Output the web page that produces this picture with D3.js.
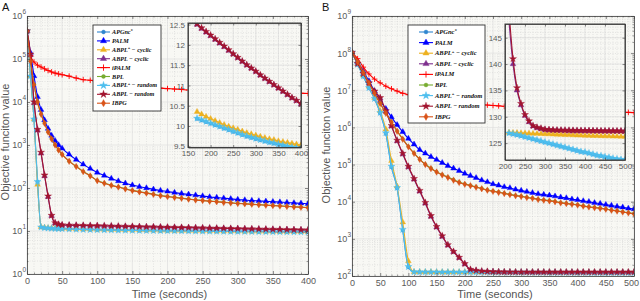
<!DOCTYPE html>
<html>
<head>
<meta charset="utf-8">
<script src="https://cdnjs.cloudflare.com/ajax/libs/d3/7.8.5/d3.min.js"></script>
<style>
  body { margin: 0; background: #fff; }
  svg { display: block; font-family: "Liberation Sans", Arial, sans-serif; }
</style>
</head>
<body>
<svg id="chart" width="640" height="301"></svg>
<script>
// ---- values (objective value vs time) ----
var timesA = [0,5,10,15,20,25,30,35,40,45,50,60,70,80,90,100,110,120,130,140,150,160,170,180,190,200,
  210,220,230,240,250,260,270,280,290,300,310,320,330,340,350,360,370,380,390,400];
var timesB = [0,10,20,30,40,50,60,70,80,90,100,110,120,130,140,150,160,170,180,190,200,
  210,220,230,240,250,260,270,280,290,300,310,320,330,340,350,360,370,380,390,400,
  410,420,430,440,450,460,470,480,490,500];

// panel A
var apgncA = [4.5e5,4.0e4,3.9e3,138,12.25,11.83,11.63,11.49,11.39,11.29,11.19,11.04,10.92,10.81,10.71,10.62,10.54,10.47,10.4,10.34,
  10.28,10.23,10.18,10.14,10.1,10.06,10.02,9.98,9.94,9.9,9.86,9.82,9.78,9.74,9.71,9.68,9.65,9.62,9.59,9.57,9.54,9.52,9.49,9.47,9.45,9.43];
var palmA = [4.5e5,1.4e5,4.0e4,1.32e4,6.6e3,3.8e3,2.4e3,1.66e3,1.26e3,1.0e3,832,603,457,355,282,229,195,166,145,129,
  117,107,100,93,87,83,78,74,71,68,65,62,60,58,56,54,52.5,51,50,49,48,47,46,45,44,43];
var abplPlusCyclicA = [4.5e5,4.0e4,4.0e3,120,12.5,12.0,11.8,11.65,11.55,11.45,11.35,11.2,11.08,10.98,10.88,10.8,10.72,10.65,10.58,10.51,
  10.45,10.4,10.35,10.29,10.23,10.18,10.13,10.08,10.03,9.99,9.95,9.91,9.87,9.83,9.8,9.77,9.74,9.71,9.68,9.66,9.63,9.61,9.59,9.57,9.55,9.53];
var abplCyclicA = [4.5e5,1.25e5,9.5e3,2.2e3,640,190,62,22.5,15.3,14.2,13.75,13.6,13.5,13.4,13.3,13.2,13.1,13.0,12.9,12.8,
  12.7,12.6,12.5,12.4,12.31,12.22,12.13,12.04,11.95,11.86,11.77,11.68,11.59,11.5,11.42,11.34,11.25,11.17,11.09,11.01,10.93,10.85,10.77,10.69,10.62,10.54];
var ipalmA = [4.5e5,1.2e5,8.5e4,7.2e4,6.5e4,5.9e4,5.4e4,5.0e4,4.7e4,4.5e4,4.3e4,4.0e4,3.6e4,3.3e4,3.2e4,3.0e4,2.9e4,2.75e4,2.6e4,2.5e4,
  2.4e4,2.35e4,2.25e4,2.15e4,2.1e4,2.05e4,2.0e4,1.95e4,1.9e4,1.88e4,1.86e4,1.82e4,1.8e4,1.78e4,1.76e4,1.74e4,1.72e4,1.7e4,1.69e4,1.67e4,
  1.66e4,1.64e4,1.63e4,1.62e4,1.6e4,1.58e4];
var bplA = [4.5e5,9.0e4,2.55e4,1.02e4,5.3e3,3.25e3,2.02e3,1.4e3,1.01e3,765,608,421,319,242,193,150,130,116,106,96,
  88,82,77,72,67,64,61,58,55.5,53,51.5,49.5,48.5,46.5,45.4,44,43.1,42.1,41.1,40.2,39.3,38.4,37.6,36.7,35.9,35];
var abplPlusRandomA = [4.5e5,4.0e4,4.0e3,141,12.3,11.85,11.65,11.5,11.4,11.3,11.2,11.05,10.93,10.82,10.72,10.63,10.55,10.48,10.41,10.35,
  10.29,10.24,10.19,10.15,10.11,10.07,10.03,9.99,9.95,9.91,9.87,9.83,9.79,9.75,9.72,9.69,9.66,9.63,9.6,9.58,9.55,9.53,9.5,9.48,9.46,9.44];
var abplRandomA = [4.5e5,1.3e5,1.0e4,2.3e3,676,200,65,23,15.5,14.3,13.8,13.65,13.55,13.45,13.35,13.25,13.15,13.05,12.95,12.85,
  12.75,12.64,12.52,12.42,12.33,12.24,12.15,12.06,11.97,11.88,11.78,11.69,11.6,11.51,11.43,11.35,11.26,11.18,11.1,11.02,10.94,10.86,10.78,10.7,10.63,10.55];
var ibpgA = [4.5e5,8.9e4,2.5e4,1.0e4,5.2e3,3.2e3,2.0e3,1.38e3,1.0e3,759,603,417,316,240,191,148,129,115,105,95,
  87,81,76,71,66,63,60,57.5,55,52.5,51,49,48,46,45,43.6,42.7,41.7,40.7,39.8,38.9,38,37.2,36.3,35.5,34.7];

// panel B
var apgncB = [1.05e8,4.9e7,2.35e7,1.15e7,5.8e6,2.4e6,6.8e5,8.5e4,2.3e4,1.7e3,172,
  128.4,128.1,127.9,127.7,127.5,127.35,127.25,127.15,127.05,126.95,
  126.85,126.7,126.55,126.35,126.15,125.95,125.75,125.55,125.35,125.15,
  124.95,124.75,124.55,124.35,124.15,123.95,123.75,123.55,123.35,123.25,
  123.05,122.85,122.65,122.55,122.35,122.25,122.05,121.95,121.85,121.75];
var palmB = [1.05e8,6.0e7,3.3e7,1.78e7,9.5e6,5.2e6,3.2e6,1.9e6,1.17e6,7.6e5,5.0e5,
  3.5e5,2.5e5,2.0e5,1.62e5,1.35e5,1.12e5,9.3e4,7.9e4,6.8e4,5.75e4,
  5.0e4,4.4e4,3.8e4,3.4e4,3.0e4,2.75e4,2.5e4,2.35e4,2.14e4,2.0e4,
  1.86e4,1.74e4,1.62e4,1.55e4,1.48e4,1.41e4,1.32e4,1.26e4,1.17e4,1.12e4,
  1.05e4,1.0e4,9.3e3,8.9e3,8.3e3,7.9e3,7.4e3,7.1e3,6.6e3,6.3e3];
var abplPlusCyclicB = [1.05e8,5.1e7,2.5e7,1.26e7,6.3e6,2.8e6,8.9e5,1.26e5,2.6e4,2.8e3,251,
  128.3,127.9,127.6,127.4,127.3,127.25,127.2,127.15,127.1,127.05,
  127.0,126.97,126.94,126.91,126.88,126.85,126.82,126.79,126.76,126.73,
  126.7,126.67,126.64,126.61,126.58,126.55,126.52,126.49,126.46,126.43,
  126.41,126.39,126.37,126.35,126.33,126.31,126.29,126.27,126.25,126.23];
var abplCyclicB = [1.05e8,5.2e7,2.75e7,1.55e7,9.3e6,6.1e6,2.7e6,1.08e6,4.3e5,1.9e5,8.5e4,
  4.0e4,1.9e4,9.0e3,4.0e3,2.05e3,1.15e3,670,445,308,209,
  148,140,135,132.2,130.2,129.0,128.2,127.9,127.7,127.55,
  127.5,127.46,127.44,127.42,127.4,127.38,127.37,127.36,127.35,127.34,
  127.33,127.32,127.31,127.3,127.3,127.29,127.29,127.28,127.28,127.28];
var ipalmB = [1.05e8,7.1e7,4.2e7,2.75e7,2.0e7,1.58e7,1.29e7,1.1e7,9.5e6,8.3e6,7.6e6,
  7.1e6,6.6e6,6.2e6,5.9e6,5.6e6,5.4e6,5.1e6,4.9e6,4.8e6,4.6e6,
  4.5e6,4.3e6,4.2e6,4.0e6,3.9e6,3.8e6,3.7e6,3.65e6,3.55e6,3.47e6,
  3.4e6,3.3e6,3.24e6,3.16e6,3.12e6,3.09e6,3.02e6,2.95e6,2.88e6,2.85e6,
  2.82e6,2.75e6,2.72e6,2.69e6,2.66e6,2.63e6,2.6e6,2.57e6,2.54e6,2.51e6];
var bplB = [1.05e8,5.8e7,3.05e7,1.6e7,8.5e6,4.5e6,2.45e6,1.41e6,8.1e5,4.9e5,3.06e5,
  2.04e5,1.41e5,1.02e5,7.95e4,6.4e4,5.35e4,4.6e4,3.9e4,3.37e4,3.0e4,
  2.75e4,2.5e4,2.28e4,2.08e4,1.94e4,1.82e4,1.69e4,1.58e4,1.48e4,1.41e4,
  1.32e4,1.25e4,1.17e4,1.12e4,1.07e4,1.02e4,9.5e3,9.1e3,8.7e3,8.3e3,
  7.75e3,7.35e3,7.05e3,6.75e3,6.4e3,6.0e3,5.7e3,5.35e3,5.1e3,4.8e3];
var abplPlusRandomB = [1.05e8,5.0e7,2.4e7,1.17e7,6.0e6,2.5e6,7.1e5,8.9e4,2.4e4,1.78e3,178,
  128.5,128.2,128.0,127.8,127.6,127.4,127.3,127.2,127.1,127.0,
  126.9,126.75,126.6,126.4,126.2,126.0,125.8,125.6,125.4,125.2,
  125.0,124.8,124.6,124.4,124.2,124.0,123.8,123.6,123.4,123.3,
  123.1,122.9,122.7,122.6,122.4,122.3,122.1,122.0,121.9,121.8];
var abplRandomB = [1.05e8,5.25e7,2.8e7,1.58e7,9.5e6,6.3e6,2.8e6,1.12e6,4.5e5,2.0e5,8.9e4,
  4.2e4,2.0e4,9.5e3,4.2e3,2.14e3,1.2e3,692,457,316,214,
  150,141,135.5,132.5,130.4,129.2,128.3,128.0,127.8,127.6,
  127.55,127.5,127.48,127.46,127.44,127.42,127.4,127.39,127.38,127.37,
  127.36,127.35,127.34,127.33,127.32,127.32,127.31,127.31,127.3,127.3];
var ibpgB = [1.05e8,5.75e7,3.0e7,1.58e7,8.3e6,4.4e6,2.4e6,1.38e6,7.9e5,4.8e5,3.0e5,
  2.0e5,1.38e5,1.0e5,7.8e4,6.3e4,5.25e4,4.5e4,3.8e4,3.3e4,2.95e4,
  2.7e4,2.45e4,2.24e4,2.04e4,1.9e4,1.78e4,1.66e4,1.55e4,1.45e4,1.38e4,
  1.29e4,1.23e4,1.15e4,1.1e4,1.05e4,1.0e4,9.3e3,8.9e3,8.5e3,8.1e3,
  7.6e3,7.2e3,6.9e3,6.6e3,6.3e3,5.9e3,5.6e3,5.25e3,5.0e3,4.7e3];

// legend labels (base, superscript, rest)
var nameBase = ['APGnc','PALM','ABPL','ABPL','iPALM','BPL','ABPL','ABPL','IBPG'];
var nameSup  = ['*','','+','','','','+','',''];
var nameRest = ['','',' \u2212 cyclic',' \u2212 cyclic','','',' \u2212 random',' \u2212 random',''];
var seriesColors = ['#2f86cf','#0000ff','#edb120','#7e2f8e','#ff0000','#77ac30','#4dbeee','#a2142f','#d95319'];
var seriesShapes = ['circle','triangle','triangle','triangle','plus','circle','star','star','diamond'];

// ticks
var xTicksA = [0,50,100,150,200,250,300,350,400];
var xTicksB = [0,50,100,150,200,250,300,350,400,450,500];
var yExpA = [0,1,2,3,4,5,6];
var yExpB = [2,3,4,5,6,7,8,9];
var insetXTicksA = [150,200,250,300,350,400];
var insetYTicksA = [9.5,10,10.5,11,11.5,12,12.5];
var insetXTicksB = [200,250,300,350,400,450,500];
var insetYTicksB = [125,130,135,140,145];

var svg = d3.select("#chart");
var defs = svg.append("defs");
var symbolTypes = {circle: d3.symbolCircle, triangle: d3.symbolTriangle, plus: d3.symbolPlus, star: d3.symbolStar, diamond: d3.symbolDiamond};
var symbolSizes = {circle: 9, triangle: 14, plus: 12, star: 15, diamond: 12};
var plotBg = "#f8f8f4", frameCol = "#3c3c3c", tickCol = "#5a5a5a";

function styleAxis(sel, fs) {
  sel.attr("font-size", fs).attr("font-family", '"Liberation Sans", Arial, sans-serif');
  sel.select(".domain").attr("stroke", frameCol).attr("stroke-width", 0.8);
  sel.selectAll(".tick line").attr("stroke", frameCol).attr("stroke-width", 0.6);
  sel.selectAll(".tick text").attr("fill", tickCol);
}
function minorOnly(sel) {
  sel.select(".domain").remove();
  sel.selectAll(".tick line").attr("stroke", frameCol).attr("stroke-width", 0.5);
}

function drawSeries(g, x, y, times, data, clipId, tMin) {
  var sg = g.append("g").attr("clip-path", "url(#" + clipId + ")");
  var line = d3.line().x(function(d) { return x(d[0]); }).y(function(d) { return y(d[1]); }).curve(d3.curveMonotoneX);
  data.forEach(function(vals, i) {
    var pts = times.map(function(t, j) { return [t, vals[j]]; })
      .filter(function(d) { return d[0] >= tMin; });
    var col = seriesColors[i], shape = seriesShapes[i];
    sg.append("path").datum(pts).attr("fill", "none").attr("stroke", col).attr("stroke-width", 1.1).attr("d", line);
    var sym = d3.symbol().type(symbolTypes[shape]).size(symbolSizes[shape]);
    sg.selectAll(null).data(pts).enter().append("path")
      .attr("transform", function(d) { return "translate(" + x(d[0]) + "," + y(d[1]) + ")"; })
      .attr("d", sym)
      .attr("fill", shape == "plus" ? "none" : col)
      .attr("stroke", col)
      .attr("stroke-width", shape == "plus" ? 0.9 : 0.4);
  });
}

function clipRect(id, x0, y0, x1, y1) {
  defs.append("clipPath").attr("id", id).append("rect")
    .attr("x", x0).attr("y", y0).attr("width", x1 - x0).attr("height", y1 - y0);
}

function drawPanel(p) {
  var g = svg.append("g");
  var x = d3.scaleLinear().domain(p.xDomain).range(p.xRange);
  var y = d3.scaleLog().domain(p.yDomain).range(p.yRange);
  var x0 = p.xRange[0], x1 = p.xRange[1], yb = p.yRange[0], yt = p.yRange[1];

  g.append("rect").attr("x", x0).attr("y", yt).attr("width", x1 - x0).attr("height", yb - yt).attr("fill", plotBg);

  // grid
  var xMinor = d3.range(p.xDomain[0], p.xDomain[1] + 1, 10).filter(function(v) { return v % 50 != 0; });
  var yMajor = p.yExp.map(function(e) { return Math.pow(10, e); });
  var yMinor = [];
  p.yExp.slice(0, -1).forEach(function(e) { for (var m = 2; m < 10; m++) yMinor.push(m * Math.pow(10, e)); });
  var grid = g.append("g");
  grid.selectAll(null).data(xMinor).enter().append("line")
    .attr("x1", x).attr("x2", x).attr("y1", yt).attr("y2", yb)
    .attr("stroke", "#cfcfcf").attr("stroke-width", 0.5).attr("stroke-dasharray", "1,1.5");
  grid.selectAll(null).data(yMinor).enter().append("line")
    .attr("x1", x0).attr("x2", x1).attr("y1", y).attr("y2", y)
    .attr("stroke", "#cfcfcf").attr("stroke-width", 0.5).attr("stroke-dasharray", "1,1.5");
  grid.selectAll(null).data(p.xTicks).enter().append("line")
    .attr("x1", x).attr("x2", x).attr("y1", yt).attr("y2", yb)
    .attr("stroke", "#dadada").attr("stroke-width", 0.6);
  grid.selectAll(null).data(yMajor).enter().append("line")
    .attr("x1", x0).attr("x2", x1).attr("y1", y).attr("y2", y)
    .attr("stroke", "#dadada").attr("stroke-width", 0.6);

  clipRect(p.id + "clip", x0, yt, x1, yb);
  drawSeries(g, x, y, p.times, p.data, p.id + "clip", -Infinity);

  // axes, ticks pointing inward on every side
  var gx = g.append("g").attr("transform", "translate(0," + yb + ")")
    .call(d3.axisBottom(x).tickValues(p.xTicks).tickSize(-3).tickSizeOuter(0).tickPadding(4).tickFormat(d3.format("d")));
  styleAxis(gx, 9);
  // keep the last label inside the window
  gx.selectAll(".tick text").filter(function(d) { return x(d) > 628; }).attr("dx", -3);
  var gxt = g.append("g").attr("transform", "translate(0," + yt + ")")
    .call(d3.axisTop(x).tickValues(p.xTicks).tickSize(-3).tickSizeOuter(0).tickFormat(""));
  styleAxis(gxt, 9);
  g.append("g").attr("transform", "translate(0," + yb + ")")
    .call(d3.axisBottom(x).tickValues(xMinor).tickSize(-1.5).tickFormat("")).call(minorOnly);
  g.append("g").attr("transform", "translate(0," + yt + ")")
    .call(d3.axisTop(x).tickValues(xMinor).tickSize(-1.5).tickFormat("")).call(minorOnly);

  var gy = g.append("g").attr("transform", "translate(" + x0 + ",0)")
    .call(d3.axisLeft(y).tickValues(yMajor).tickSize(-3).tickSizeOuter(0).tickPadding(1).tickFormat(function() { return ""; }));
  styleAxis(gy, 9);
  gy.selectAll(".tick text").each(function(d) {
    var t = d3.select(this);
    t.append("tspan").text("10");
    t.append("tspan").attr("dy", -5).attr("font-size", 6.5).text(Math.round(Math.log10(d)));
  });
  var gyr = g.append("g").attr("transform", "translate(" + x1 + ",0)")
    .call(d3.axisRight(y).tickValues(yMajor).tickSize(-3).tickSizeOuter(0).tickFormat(""));
  styleAxis(gyr, 9);
  g.append("g").attr("transform", "translate(" + x0 + ",0)")
    .call(d3.axisLeft(y).tickValues(yMinor).tickSize(-1.5).tickFormat("")).call(minorOnly);
  g.append("g").attr("transform", "translate(" + x1 + ",0)")
    .call(d3.axisRight(y).tickValues(yMinor).tickSize(-1.5).tickFormat("")).call(minorOnly);

  // titles
  g.append("text").attr("x", p.panelX).attr("y", 11).attr("font-size", 11).attr("fill", "#111").text(p.letter);
  g.append("text").attr("x", (x0 + x1) / 2 + 2).attr("y", 298).attr("text-anchor", "middle")
    .attr("font-size", 11).attr("fill", "#555").text("Time (seconds)");
  g.append("text").attr("transform", "translate(" + p.yTitleX + "," + p.yTitleY + ") rotate(-90)")
    .attr("text-anchor", "middle").attr("font-size", 11).attr("fill", "#555").text("Objective funciton value");

  drawLegend(g, p.legend);
  drawInset(g, p);
}

function drawInset(g, p) {
  var q = p.inset;
  var ig = g.append("g");
  var x = d3.scaleLinear().domain(q.xDomain).range(q.xRange);
  var y = d3.scaleLinear().domain(q.yDomain).range(q.yRange);
  var x0 = q.xRange[0], x1 = q.xRange[1], yb = q.yRange[0], yt = q.yRange[1];
  ig.append("rect").attr("x", x0).attr("y", yt).attr("width", x1 - x0).attr("height", yb - yt).attr("fill", plotBg);

  var xMinor = d3.range(q.xDomain[0], q.xDomain[1] + 1, 10);
  var yMinor = d3.range(Math.ceil(q.yDomain[0] / q.yMinorStep) * q.yMinorStep, q.yDomain[1], q.yMinorStep);
  ig.selectAll(null).data(xMinor).enter().append("line")
    .attr("x1", x).attr("x2", x).attr("y1", yt).attr("y2", yb)
    .attr("stroke", "#cfcfcf").attr("stroke-width", 0.5).attr("stroke-dasharray", "1,1.5");
  ig.selectAll(null).data(yMinor).enter().append("line")
    .attr("x1", x0).attr("x2", x1).attr("y1", y).attr("y2", y)
    .attr("stroke", "#cfcfcf").attr("stroke-width", 0.5).attr("stroke-dasharray", "1,1.5");
  ig.selectAll(null).data(q.xTicks).enter().append("line")
    .attr("x1", x).attr("x2", x).attr("y1", yt).attr("y2", yb).attr("stroke", "#d8d8d8").attr("stroke-width", 0.6);
  ig.selectAll(null).data(q.yTicks).enter().append("line")
    .attr("x1", x0).attr("x2", x1).attr("y1", y).attr("y2", y).attr("stroke", "#d8d8d8").attr("stroke-width", 0.6);

  clipRect(p.id + "iclip", x0, yt, x1, yb);
  drawSeries(ig, x, y, p.times, p.data, p.id + "iclip", q.tMin);

  var fmt = function(d) { return String(d); };
  styleAxis(ig.append("g").attr("transform", "translate(0," + yb + ")")
    .call(d3.axisBottom(x).tickValues(q.xTicks).tickSize(-2.5).tickSizeOuter(0).tickPadding(3).tickFormat(fmt)), 8);
  styleAxis(ig.append("g").attr("transform", "translate(0," + yt + ")")
    .call(d3.axisTop(x).tickValues(q.xTicks).tickSize(-2.5).tickSizeOuter(0).tickFormat("")), 8);
  styleAxis(ig.append("g").attr("transform", "translate(" + x0 + ",0)")
    .call(d3.axisLeft(y).tickValues(q.yTicks).tickSize(-2.5).tickSizeOuter(0).tickPadding(3).tickFormat(fmt)), 8);
  styleAxis(ig.append("g").attr("transform", "translate(" + x1 + ",0)")
    .call(d3.axisRight(y).tickValues(q.yTicks).tickSize(-2.5).tickSizeOuter(0).tickFormat("")), 8);
  ig.append("rect").attr("x", x0).attr("y", yt).attr("width", x1 - x0).attr("height", yb - yt)
    .attr("fill", "none").attr("stroke", "#333").attr("stroke-width", 0.9);
}

function drawLegend(g, lg) {
  var l = g.append("g");
  l.append("rect").attr("x", lg.x).attr("y", lg.y).attr("width", lg.w).attr("height", lg.h)
    .attr("fill", "#fff").attr("stroke", "#333").attr("stroke-width", 0.9);
  nameBase.forEach(function(b, i) {
    var cy = lg.row0 + i * lg.step, col = seriesColors[i], shape = seriesShapes[i];
    l.append("line").attr("x1", lg.lx0).attr("x2", lg.lx1).attr("y1", cy).attr("y2", cy)
      .attr("stroke", col).attr("stroke-width", 1.1);
    l.append("path").attr("transform", "translate(" + (lg.lx0 + lg.lx1) / 2 + "," + cy + ")")
      .attr("d", d3.symbol().type(symbolTypes[shape]).size(symbolSizes[shape] + 3))
      .attr("fill", shape == "plus" ? "none" : col).attr("stroke", col).attr("stroke-width", shape == "plus" ? 0.9 : 0.4);
    var t = l.append("text").attr("x", lg.tx).attr("y", cy + 2)
      .attr("font-family", '"Liberation Serif", "DejaVu Serif", serif').attr("font-style", "italic")
      .attr("font-weight", "bold").attr("font-size", lg.fs).attr("fill", "#111");
    t.append("tspan").text(b);
    if (nameSup[i]) t.append("tspan").attr("dy", -2.5).attr("font-size", lg.fs * 0.7).text(nameSup[i]);
    if (nameRest[i]) t.append("tspan").attr("dy", nameSup[i] ? 2.5 : 0).text(nameRest[i]);
  });
}

drawPanel({
  id: "A", letter: "A", panelX: 2,
  xDomain: [0, 400], xRange: [27, 308], yDomain: [1, 1e6], yRange: [274, 16],
  xTicks: xTicksA, yExp: yExpA, times: timesA,
  data: [apgncA, palmA, abplPlusCyclicA, abplCyclicA, ipalmA, bplA, abplPlusRandomA, abplRandomA, ibpgA],
  yTitleX: 9, yTitleY: 142,
  legend: {x: 93, y: 25, w: 68, h: 86, row0: 32, step: 8.9, lx0: 97, lx1: 110, tx: 112, fs: 6.2},
  inset: {xDomain: [150, 400], xRange: [188, 301], yDomain: [9.47, 12.54], yRange: [147.5, 23],
          xTicks: insetXTicksA, yTicks: insetYTicksA, yMinorStep: 0.1, tMin: 170}
});

drawPanel({
  id: "B", letter: "B", panelX: 322,
  xDomain: [0, 500], xRange: [352, 634], yDomain: [1e2, 1e9], yRange: [276, 16],
  xTicks: xTicksB, yExp: yExpB, times: timesB,
  data: [apgncB, palmB, abplPlusCyclicB, abplCyclicB, ipalmB, bplB, abplPlusRandomB, abplRandomB, ibpgB],
  yTitleX: 330, yTitleY: 145,
  legend: {x: 408, y: 25, w: 77, h: 98, row0: 32, step: 10.6, lx0: 419, lx1: 433, tx: 435, fs: 6.5},
  inset: {xDomain: [200, 500], xRange: [505, 625], yDomain: [121.8, 147.6], yRange: [160, 24],
          xTicks: insetXTicksB, yTicks: insetYTicksB, yMinorStep: 1, tMin: 210}
});
</script>
</body>
</html>
